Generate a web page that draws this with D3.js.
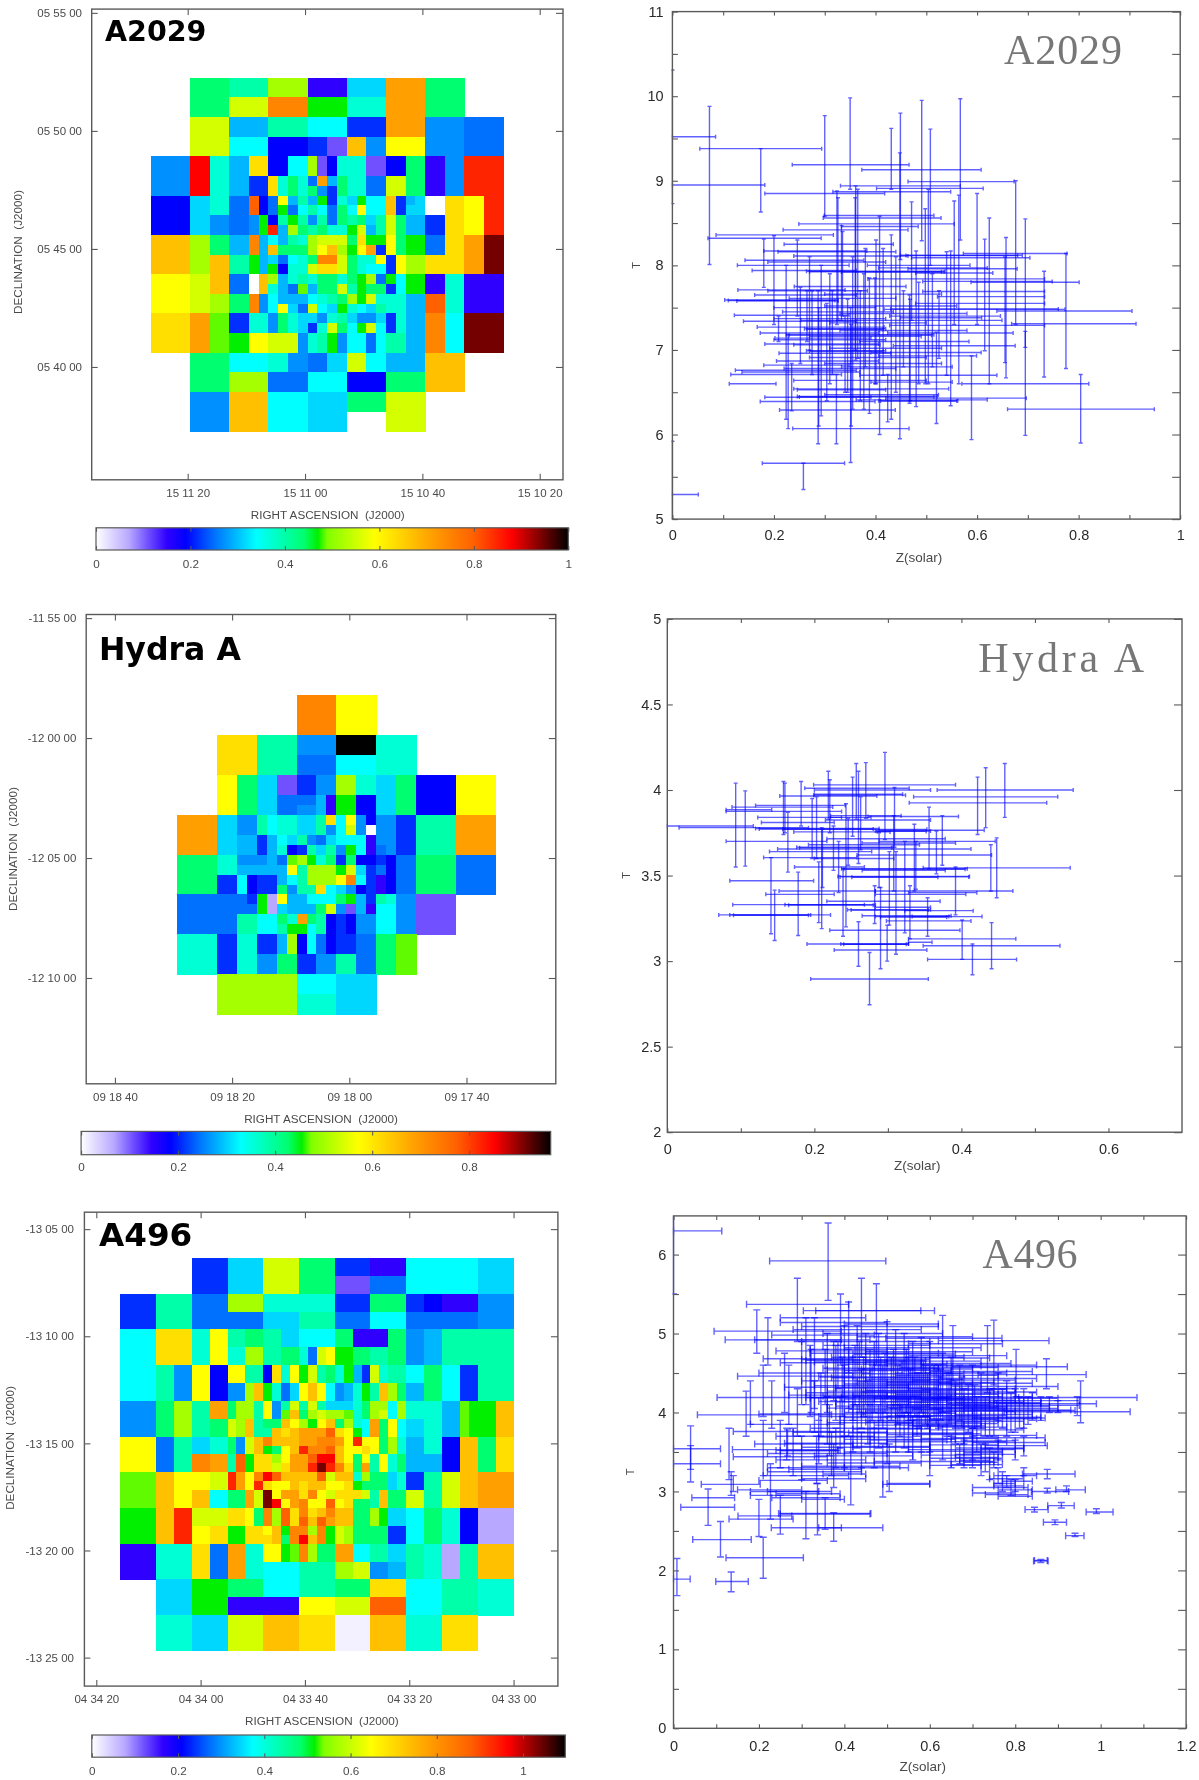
<!DOCTYPE html>
<html>
<head>
<meta charset="utf-8">
<script src="https://cdn.jsdelivr.net/npm/d3@7"></script>
<style>
body { margin: 0; background: #fff; }
svg { display: block; filter: blur(0.45px); }
text { font-family: "Liberation Sans", Arial, sans-serif; }
</style>
</head>
<body>
<svg id="chart" width="1199" height="1780"></svg>
<script>
// colour map, position on the bar (0-1) and colour
let cmap_pos = [0, .07, .11, .15, .19, .25, .34, .44, .47, .49, .59, .71, .80, .88, .94, 1];
let cmap_col = ['#ffffff', '#b8a8ff', '#7050ff', '#3000ff', '#0000ff', '#0070ff', '#00ffff', '#00ff70',
                '#00f000', '#80ff00', '#ffff00', '#ffa000', '#ff6000', '#ff0000', '#800000', '#000000'];

// abundance bins as fraction of the colour bar, one letter per level, '.' = no data
let levels = {W:0, w:.012, v:.07, p:.11, i:.15, b:.19, B:.215, c:.25, d:.27, e:.295, f:.315, g:.34, h:.37,
              j:.40, k:.44, l:.47, m:.485, n:.52, o:.555, q:.59, r:.63, s:.67, t:.71, u:.75, x:.80, y:.85,
              z:.88, A:.945, K:1};

// [how many fine rows, one letter for each fine column]  (| every 4 columns = one coarse bin)
let a2029_bins = [
 [2,'....|kkkk|jjjj|nnnn|iiii|ffff|tttt|kkkk|....'],
 [2,'....|kkkk|oooo|uuuu|llll|hhhh|tttt|kkkk|....'],
 [2,'....|oooo|eeee|jjjj|gggg|BBBB|tttt|dddd|cccc'],
 [2,'....|oooo|gggg|bbbb|BBpp|ssdd|qqqq|dddd|cccc'],
 [2,'dddd|zzhh|eerr|bbgg|npbh|hhpp|bbkk|iidd|yyyy'],
 [1,'dddd|zzhh|eeBB|rhkh|ctek|hhcc|ookk|iidd|yyyy'],
 [1,'dddd|zzhh|eeBB|rhkh|kdBk|hhcc|ookk|iidd|yyyy'],
 [1,'bbbb|ffhh|ccxb|cqej|elBh|flgg|sBef|WWrr|qqyy'],
 [1,'bbbb|ffhh|ccxb|clcg|jgck|gqgg|sBff|WWrr|qqyy'],
 [1,'bbbb|ffdd|ccdl|bjlj|djck|jkfj|okee|BBrr|qqyy'],
 [1,'bbbb|ffdd|ccdl|yenk|jkhh|loej|okee|BBrr|qqyy'],
 [1,'ssss|nnkk|eeue|gejh|nooo|krll|qkll|ccrr|ttAA'],
 [1,'ssss|nnkk|eeue|skkk|nqsn|lqtB|qkll|ccrr|ttAA'],
 [1,'ssss|nnss|jjle|fcgh|kuuo|khhq|Bqnn|rrrr|ttAA'],
 [1,'ssss|nnss|jjle|lbhh|orro|khgg|Bqnn|rrrr|ttAA'],
 [1,'qqqq|ooss|ccWs|nehj|hkkh|klnc|lgll|iihh|iiii'],
 [1,'qqqq|ooss|ccWs|hecm|ekko|jlkk|Bgll|iihh|iiii'],
 [1,'qqqq|oonn|kkud|geee|ghjk|nloh|hhee|xxhh|iiii'],
 [1,'qqqq|oonn|kkud|gqfc|ogfl|hgfj|hhee|xxhh|iiii'],
 [1,'rrrr|ttmm|BBhh|dkhf|fdhj|fddf|Bhee|uugg|AAAA'],
 [1,'rrrr|ttmm|BBhh|dkhf|Bhok|glog|Bhee|uugg|AAAA'],
 [2,'rrrr|ttmm|llqq|oood|hjld|ggcg|jjee|uugg|AAAA'],
 [2,'....|kkkk|gggg|hhdd|ccff|oogg|eeee|ssss|....'],
 [2,'....|kkkk|nnnn|cccc|gggg|bbbb|kkkk|ssss|....'],
 [2,'....|dddd|ssss|gggg|ffff|kkkk|oooo|....|....'],
 [2,'....|dddd|ssss|gggg|ffff|....|oooo|....|....']
];
let hydra_bins = [
 [4,'....|....|....|uuuu|qqqq|....|....|....'],
 [2,'....|rrrr|jjjj|dddd|KKKK|hhhh|....|....'],
 [2,'....|rrrr|jjjj|cccc|gggg|hhhh|....|....'],
 [2,'....|qqkk|ffpp|BBdd|nnhh|ffkk|bbbb|qqqq'],
 [1,'....|qqkk|ffcc|ccei|llbb|ffkk|bbbb|qqqq'],
 [1,'....|qqkk|ffcc|ddei|llbb|ffkk|bbbb|qqqq'],
 [1,'tttt|ffdd|jghh|ffjr|gqdb|ddBB|jjjj|tttt'],
 [1,'tttt|ffdd|jghh|ffjd|godW|ddBB|jjjj|tttt'],
 [1,'tttt|ffee|Begf|jdcf|gggi|ddBB|jjjj|tttt'],
 [1,'tttt|ffee|Behb|Bjfj|dlgi|cdBB|jjjj|tttt'],
 [1,'kkkk|hhdd|decm|nlhk|Bkbb|Bbcc|kkkk|cccc'],
 [1,'kkkk|hhee|eeeq|jnnn|lofB|cbcc|kkkk|cccc'],
 [1,'kkkk|BBgb|BBeg|jnnn|qugB|ibcc|kkkk|cccc'],
 [1,'kkkk|BBgb|BBkd|jjrg|fdbB|ibcc|kkkk|cccc'],
 [1,'cccc|cccB|lvqe|eggg|kleB|jhdd|pppp|....'],
 [1,'cccc|cccc|lvfe|eeko|dpei|ggdd|pppp|....'],
 [1,'cccc|ccjj|ggkh|tkjb|Bbdd|ggdd|pppp|....'],
 [1,'cccc|ccjj|ggjl|lgjb|Bbdd|ggdd|pppp|....'],
 [2,'hhhh|BBhh|BBen|bgcb|BBcc|kkmm|....|....'],
 [2,'hhhh|BBhh|ddkk|BBdd|jjcc|kkmm|....|....'],
 [2,'....|nnnn|nnnn|gggg|ffff|....|....|....'],
 [2,'....|nnnn|nnnn|hhhh|ffff|....|....|....']
];
let a496_bins = [
 [2,'....|....|BBBB|ffff|oooo|kkkk|BBBB|iiii|gggg|gggg|ffff'],
 [2,'....|....|BBBB|ffff|oooo|kkkk|pppp|cccc|gggg|gggg|ffff'],
 [2,'BBBB|jjjj|cccc|nnnn|hhhh|hhhh|BBBB|kkkk|BBbb|iiii|dddd'],
 [2,'BBBB|jjjj|cccc|cccc|ffff|jjjj|cccc|gggg|cccc|cccc|dddd'],
 [2,'gggg|rrrr|hhqq|jjkk|jjff|gggg|kkii|iikk|ddee|jjjj|jjjj'],
 [2,'gggg|rrrr|hhqq|hhnn|jjkk|hcoq|llkk|jjkk|ddee|jjjj|jjjj'],
 [2,'gggg|jjdd|qqbb|qqjj|brhq|lojk|hleB|ohjj|ggkk|ggBB|jjjj'],
 [2,'gggg|jjdd|qqbb|ddns|lhcf|qsqg|dehl|jsnk|eekk|ggBB|jjjj'],
 [1,'dddd|kknn|jjtt|knnj|qdjo|jojf|ffhk|nngn|hhhh|eeml|llss'],
 [1,'dddd|kknn|jjtt|knnj|qdms|knon|nmhk|nogn|hhhh|eeml|llss'],
 [1,'dddd|kknn|jjkk|onsj|kksq|nlqs|knhg|tkqg|ffhh|eeml|llss'],
 [1,'dddd|kknn|jjkk|onsj|jsrs|tttx|rqlg|tkqg|ffhh|eeml|llss'],
 [1,'qqqq|ccjj|ffhh|kdos|usss|ttuu|tqyq|qknh|eehh|bbss|kkrr'],
 [1,'qqqq|ccjj|ffhh|kdos|lkqs|yuux|sqqr|qknh|eehh|bbss|kkrr'],
 [1,'qqqq|ccjj|uutt|jxlr|rnqt|txzz|sqkq|jqhk|eeee|bbss|kkrr'],
 [1,'qqqq|ccjj|uutt|jxlr|rort|tyAy|urkt|jqhk|eeee|bbss|kkrr'],
 [1,'mmmm|ssqq|qqoo|ytqu|zxss|ssxo|sshn|kkfh|BBjj|ooss|tttt'],
 [1,'mmmm|ssqq|qqoo|ytqy|rqqs|rssq|qrlk|kkfh|BBjj|ooss|tttt'],
 [1,'mmmm|ssqq|ssgg|kkto|Aqtt|ruqo|rrro|jskk|oojj|ooss|tttt'],
 [1,'mmmm|ssqq|ssgg|kkto|Azqt|uqqx|qrkk|jskk|oojj|ooss|tttt'],
 [1,'llll|ssyy|oooo|rrqk|unxr|ursu|sskk|nlff|ggkk|hhbb|vvvv'],
 [1,'llll|ssyy|oooo|rrqk|unxr|xsxt|sskk|nlff|ggkk|hhbb|vvvv'],
 [1,'llll|ssyy|qqrr|llrr|qslu|unul|onkk|kkBB|ggkk|hhbb|vvvv'],
 [1,'llll|ssyy|qqrr|llrr|rsku|zsul|onkk|kkBB|ggkk|hhbb|vvvv'],
 [2,'iiii|hhhh|rrcc|tthh|qqlm|unkk|ttgg|jjff|jjhh|vvjj|ssss'],
 [2,'iiii|hhhh|rrcc|tthh|gggg|jjjj|nnoo|ddee|jjhh|vvjj|ssss'],
 [2,'....|ffff|llll|kkkk|gggg|jjjj|kkkk|rrrr|gggg|jjjj|hhhh'],
 [2,'....|ffff|llll|iiii|iiii|qqqq|oooo|xxxx|gggg|jjjj|hhhh'],
 [4,'....|hhhh|ffff|oooo|ssss|rrrr|wwww|ssss|hhhh|rrrr|....']
];

// horizontal error bars [T, Z low, Z high], vertical error bars [Z, T low, T high]
let a2029_h = [
 [9.52,0,.085],[9.38,.054,.294],[9.19,.236,.466],[9.13,.373,.608],[8.99,.464,.673],[8.95,0,.182],[8.94,.331,.567],
 [8.91,.402,.612],[8.87,.316,.548],[8.85,.182,.418],[8.59,.299,.515],[8.56,.297,.529],[8.49,.249,.555],[8.46,.333,.484],
 [8.42,.218,.464],[8.36,.086,.317],[8.32,.07,.293],[8.25,.22,.435],[8.17,.18,.383],[8.16,.208,.44],[8.14,.573,.777],
 [8.12,.449,.689],[8.115,.46,.68],[8.11,.239,.464],[8.09,.471,.704],[8.06,.143,.377],[8.04,.188,.42],[8,.128,.348],
 [8,.384,.586],[7.97,.406,.62],[7.96,.464,.679],[7.94,.157,.362],[7.93,.264,.537],[7.925,.27,.53],[7.92,.333,.535],
 [7.91,.479,.631],[7.84,.385,.733],[7.81,.493,.748],[7.8,.588,.801],[7.71,.129,.34],[7.7,.188,.384],[7.69,.493,.733],
 [7.65,.162,.362],[7.63,.522,.733],[7.59,.103,.326],[7.585,.11,.32],[7.58,.127,.326],[7.55,.479,.733],[7.48,.417,.773],
 [7.485,.43,.76],[7.46,.639,.905],[7.45,.217,.435],[7.41,.122,.348],[7.4,.428,.646],[7.38,.449,.609],[7.35,.253,.649],
 [7.34,.14,.362],[7.31,.668,.913],[7.29,.428,.733],[7.27,.167,.417],[7.25,.26,.42],[7.245,.265,.415],[7.2,.173,.406],
 [7.2,.424,.671],[7.18,.224,.515],[7.175,.23,.51],[7.14,.202,.391],[7.1,.369,.584],[7.07,.182,.406],[7.06,.239,.409],
 [7.05,.435,.675],[6.99,.264,.42],[6.985,.27,.415],[6.97,.391,.608],[6.93,.406,.599],[6.87,.205,.406],[6.82,.18,.348],
 [6.8,.333,.551],[6.76,.124,.362],[6.74,.137,.369],[6.71,.115,.333],[6.7,.369,.639],[6.64,.239,.5],[6.62,.391,.551],
 [6.6,.112,.204],[6.6,.57,.82],[6.53,.246,.42],[6.54,.239,.544],[6.47,.3,.524],[6.45,.246,.522],[6.445,.25,.515],
 [6.44,.182,.391],[6.43,.42,.697],[6.41,.362,.62],[6.4,.406,.562],[6.395,.41,.56],[6.39,.173,.399],[6.3,.66,.949],
 [6.29,.211,.439],[6.07,.237,.466],[5.66,.177,.339],[5.29,0,.051],
 [7.75,.24,.46],[7.66,.3,.53],[7.61,.23,.44],[7.52,.3,.56],[7.5,.2,.4],[7.43,.33,.58],[7.37,.2,.42],[7.32,.31,.5],
 [7.23,.33,.58],[7.16,.27,.49],[7.12,.2,.42],[7.02,.31,.53],[6.96,.21,.43],[6.91,.27,.5],[6.84,.3,.53],[6.78,.22,.44]
];
let a2029_v = [
 [0,8.73,10.31],[0,5,5.92],[.073,8.01,9.88],[.174,8.63,9.38],[.3,8.58,9.77],[.35,8.9,9.98],[.351,5.67,7.5],[.431,8.9,9.62],
 [.449,8.07,9.8],[.448,5.95,9.33],[.491,8.29,9.95],[.508,8,9.61],[.567,8.3,9.97],[.6,7.3,8.85],[.676,7.3,9],[.695,7.03,8.55],
 [.695,5.99,7.22],[.624,6.6,8.56],[.615,6.99,8.31],[.657,6.67,8.33],[.655,6.85,8.1],[.732,6.68,7.93],[.775,6.78,8.14],
 [.804,5.9,6.71],[.589,5.94,6.93],[.258,5.35,5.66],[.564,6.6,8.83],[.555,7.3,8.76],[.548,6.34,8.17],[.54,6.7,8.16],
 [.52,6.13,7.21],[.504,6.6,8.9],[.498,6.6,8.67],[.48,6.33,8.17],[.471,7.35,8.75],[.467,6.37,7.65],[.468,6.4,7.6],
 [.408,6,8.58],[.401,6.6,8.3],[.431,6.18,8.36],[.424,6.15,6.71],[.361,6.88,8.94],[.36,7,8.8],[.333,7.35,8.47],[.335,7.4,8.4],
 [.324,7.3,8.88],[.326,7.35,8.8],[.323,5.89,6.71],[.287,5.89,7.7],[.288,6.1,7.5],[.293,6.22,8],[.2,7.3,8.35],[.18,7.74,8.31],
 [.224,6.18,8],[.228,6.07,7.18],[.246,7.4,8.3],[.235,6.28,6.84],[.252,6.84,7.74],[.275,6.71,7.7],[.209,7.1,7.4],
 [.304,6.4,7.55],[.315,6.71,7.7],[.37,6.4,7.7],[.377,6.3,7.9],[.388,6.25,7.85],[.399,6.6,7.85],[.27,7,8.1],[.265,7.1,7.7],
 [.345,6.5,7.6],[.352,6.1,7.3],[.31,6.6,7.9],[.34,6.5,7.4],[.355,6.3,8.1],[.365,6.9,8.9],[.38,6.8,8.2],[.415,6.7,8.2],
 [.44,6.5,8.1],[.455,6.8,7.7],[.485,6.6,7.8],[.512,6.8,7.9],[.525,6.9,7.7]
];
let hydra_h = [
 [4.03,.199,.392],[4.01,.187,.329],[4,.367,.552],[4,.2,.358],[3.96,.335,.531],[3.965,.153,.285],[3.97,.199,.324],
 [3.975,.2,.32],[3.925,.329,.516],[3.91,.12,.242],[3.9,.088,.225],[3.875,.08,.237],[3.885,.08,.142],[3.85,.222,.318],
 [3.84,.123,.237],[3.84,.222,.277],[3.845,.273,.396],[3.825,.215,.358],[3.81,.128,.227],[3.79,0,.117],[3.78,.016,.192],
 [3.775,.12,.288],[3.772,.125,.28],[3.77,.157,.353],[3.76,.283,.358],[3.758,.285,.352],[3.765,.288,.431],[3.755,.172,.303],
 [3.715,.217,.378],[3.7,.08,.217],[3.7,.288,.446],[3.69,.265,.392],[3.68,.192,.343],[3.665,.176,.307],[3.662,.18,.305],
 [3.655,.15,.413],[3.64,.139,.278],[3.62,.258,.441],[3.605,.131,.258],[3.6,.2,.308],[3.55,.173,.268],[3.545,.348,.548],
 [3.54,.237,.408],[3.537,.24,.405],[3.53,.265,.378],[3.495,.232,.411],[3.492,.235,.41],[3.49,.251,.368],[3.47,.085,.199],
 [3.41,.152,.283],[3.41,.283,.47],[3.4,.328,.421],[3.39,.134,.227],[3.39,.283,.406],[3.35,.217,.371],[3.33,.089,.268],
 [3.33,.16,.283],[3.327,.165,.28],[3.315,.283,.358],[3.3,.245,.358],[3.298,.25,.355],[3.295,.323,.416],[3.27,.07,.222],
 [3.27,.085,.195],[3.268,.09,.192],[3.26,.283,.383],[3.257,.29,.38],[3.265,.265,.386],[3.26,.333,.428],[3.235,.298,.413],
 [3.18,.221,.398],[3.13,.328,.474],[3.1,.19,.328],[3.1,.236,.328],[3.098,.24,.325],[3.11,.328,.36],[3.09,.348,.534],
 [3.065,.227,.353],[3.01,.354,.475],[2.895,.195,.355]
];
let hydra_v = [
 [.093,3.55,4.04],[.106,3.555,3.995],[.141,3.16,3.605],[.146,3.12,3.415],[.158,3.74,4.05],[.16,3.75,4.04],[.164,3.52,3.87],
 [.178,3.15,3.52],[.182,3.79,4.05],[.197,3.6,3.95],[.203,3.6,3.96],[.206,3.225,3.58],[.21,3.19,3.78],[.211,3.43,3.77],
 [.219,3.83,4.11],[.221,3.75,4.06],[.226,3.53,3.79],[.233,3.4,3.7],[.239,3.145,3.54],[.243,3.2,3.92],[.246,3.56,3.835],
 [.252,3.73,4.075],[.257,3.83,4.155],[.26,2.97,3.23],[.26,3.57,4.11],[.263,3.65,3.96],[.27,3.835,4.16],[.275,2.745,3.05],
 [.282,3.22,3.44],[.29,2.955,3.43],[.296,3.71,4.22],[.288,3.43,3.75],[.299,3,3.21],[.302,3.21,3.64],[.309,3.665,4.015],
 [.308,3.41,3.85],[.311,3.04,3.64],[.323,3.165,3.7],[.33,3.13,3.44],[.336,3.41,3.8],[.338,3.42,3.7],[.356,3.54,3.9],
 [.354,3.145,3.37],[.366,3.51,3.76],[.374,3.56,3.85],[.392,3.27,3.55],[.401,3.01,3.24],[.415,2.92,3.1],[.422,3.74,4.075],
 [.433,3.78,4.13],[.44,3.41,3.68],[.441,2.955,3.225],[.448,3.37,3.72],[.459,3.84,4.155]
];
let a496_h = [
 [6.3,0,.113],[5.92,.225,.497],[5.37,.171,.41],[5.29,.304,.579],[5.29,.333,.611],[5.2,.25,.45],[5.14,.25,.5],[5.12,.4,.62],
 [5.09,.3,.62],[5.05,.28,.58],[5.03,.095,.393],[5,.35,.63],[4.98,.23,.47],[4.96,.43,.7],[4.94,.497,.769],[4.92,.121,.393],
 [4.92,.19,.46],[4.91,.62,.879],[4.9,.3,.6],[4.87,.55,.77],[4.85,.35,.6],[4.82,.4,.72],[4.8,.32,.55],[4.78,.24,.5],
 [4.77,.45,.7],[4.75,.32,.62],[4.72,.55,.78],[4.7,.37,.68],[4.68,.21,.42],[4.67,.3,.6],[4.66,.31,.59],[4.65,.45,.72],
 [4.63,.25,.5],[4.62,.5,.79],[4.6,.58,.85],[4.58,.652,.922],[4.56,.35,.62],[4.55,.44,.7],[4.53,.4,.65],[4.5,.2,.46],
 [4.5,.55,.78],[4.48,.713,.966],[4.46,.15,.42],[4.45,.34,.63],[4.43,.62,.85],[4.42,.45,.68],[4.4,.3,.6],[4.38,.5,.75],
 [4.36,.4,.7],[4.34,.33,.55],[4.33,.65,.9],[4.32,.26,.55],[4.3,.55,.8],[4.28,.45,.75],[4.27,.36,.6],[4.26,.7,.85],
 [4.25,.31,.6],[4.24,.6,.8],[4.22,.27,.5],[4.21,.42,.66],[4.2,.5,.77],[4.19,.808,1.085],[4.19,.102,.393],[4.19,.31,.65],
 [4.185,.32,.64],[4.18,.6,.9],[4.17,.4,.7],[4.16,.52,.74],[4.15,.75,.95],[4.14,.34,.55],[4.13,.55,.82],[4.125,.66,.86],
 [4.11,.756,.99],[4.1,.42,.75],[4.09,.65,.95],[4.08,.38,.6],[4.07,.53,.78],[4.06,.5,.76],[4.05,.6,.9],[4.04,.41,.63],
 [4.03,.68,.93],[4.025,.7,.94],[4.01,.774,1.069],[4.02,.45,.7],[4,.4,.65],[3.98,.2,.45],[3.97,.056,.37],[3.96,.52,.78],
 [3.95,.34,.6],[3.94,.63,.86],[3.93,.7,.87],[3.92,.6,.85],[3.9,.39,.65],[3.88,.45,.72],[3.86,.52,.76],[3.85,.18,.4],
 [3.83,.55,.73],[3.825,.56,.72],[3.8,.32,.58],[3.78,.6,.82],[3.76,.14,.4],[3.74,.41,.7],[3.72,.5,.7],[3.7,.24,.47],
 [3.68,.65,.87],[3.66,.4,.66],[3.63,.5,.78],[3.62,.7,.87],[3.6,.19,.42],[3.58,.73,.875],[3.56,.3,.6],[3.54,0,.11],
 [3.53,.138,.385],[3.53,.55,.8],[3.52,.24,.39],[3.515,.25,.385],[3.5,.4,.6],[3.48,.22,.5],[3.45,.33,.56],[3.42,.6,.77],
 [3.4,.24,.45],[3.395,.67,.74],[3.38,.47,.75],[3.35,0,.11],[3.34,.65,.77],[3.32,.3,.53],[3.3,.22,.4],[3.3,.4,.55],
 [3.25,.22,.44],[3.22,.35,.45],[3.22,.817,.94],[3.2,.21,.41],[3.16,.3,.45],[3.1,.5,.6],[3.09,.065,.203],[3.09,.49,.6],
 [3.02,.15,.3],[3,.18,.37],[3,.22,.34],[2.97,.24,.39],[2.95,.18,.3],[2.92,.043,.143],[2.9,.3,.4],[2.92,.23,.39],
 [2.8,.017,.143],[2.72,.246,.462],[2.715,.25,.46],[2.69,.151,.277],[2.65,.13,.28],[2.54,.229,.393],[2.54,.34,.49],
 [2.39,.045,.182],[2.16,.123,.304],[1.86,.099,.175],[1.89,0,.039],
 [3.2,.75,.85],[3.05,.7,.83],[3.02,.76,.84],[3,.838,.925],[3.02,.895,.964],[2.98,.7,.8],[2.96,.73,.83],[2.94,.76,.84],
 [3.1,.75,.8],[3.07,.75,.82],[2.74,.966,1.029],[2.77,.823,.877],[2.82,.876,.938],[2.61,.866,.92],[2.44,.918,.961],
 [2.12,.843,.877],[2.125,.845,.875],
 [4.74,.42,.66],[4.69,.5,.74],[4.64,.33,.58],[4.61,.4,.64],[4.59,.47,.72],[4.57,.53,.76],[4.54,.36,.6],[4.52,.6,.84],
 [4.49,.44,.68],[4.47,.52,.76],[4.44,.37,.6],[4.41,.56,.8],[4.39,.43,.65],[4.37,.62,.84],[4.35,.5,.72],[4.31,.38,.62],
 [4.29,.58,.78],[4.26,.44,.66],[4.23,.52,.76],[4.205,.35,.58],[4.195,.62,.84],[4.175,.47,.68],[4.155,.58,.8],[4.135,.38,.62],
 [4.115,.64,.86],[4.095,.5,.74],[4.075,.68,.88],[4.055,.36,.58],[4.045,.56,.78],[4.015,.62,.8],[3.99,.44,.66],[3.975,.66,.84],
 [3.955,.5,.72],[3.935,.4,.6],[3.91,.56,.76],[3.89,.66,.82],[3.87,.36,.56],[3.84,.47,.68],[3.815,.62,.78],[3.79,.42,.6],
 [3.75,.28,.5],[3.73,.56,.72],[3.69,.34,.56],[3.65,.46,.64],[3.61,.26,.5],[3.57,.42,.6],[3.55,.66,.82],[3.47,.66,.8],
 [3.44,.14,.36],[3.36,.36,.58],[3.28,.27,.44],[3.14,.2,.36],
 [3.71,.7,.85],[3.67,.58,.76],[3.64,.68,.8],[3.59,.6,.76],[3.54,.72,.82],[3.51,.6,.77],[3.49,.68,.77],[3.46,.58,.72],
 [3.43,.66,.76],[3.37,.68,.76],[3.33,.6,.72],[3.16,.74,.82],[3.13,.77,.84]
];
let a496_v = [
 [0,5.5,6.5],[.362,5.42,6.4],[.29,4.9,5.7],[.44,4.7,5.7],[.475,4.6,5.63],[.391,4.6,5.5],[.195,4.75,5.3],[.221,4.6,5.2],
 [.41,4.5,5.4],[.63,4.45,5.23],[.654,4.4,5.1],[.735,4.25,5.1],[.75,4.35,5.17],[.802,4.2,4.8],[.873,4.3,4.68],[.953,3.87,4.4],
 [.945,3.96,4.2],[.04,3.12,3.83],[.04,3.28,3.58],[.13,3.15,3.8],[.135,2.95,3.25],[.14,3,3.2],[.081,2.57,3.03],[.11,2.17,2.62],
 [.21,1.9,2.42],[.135,1.73,1.98],[.008,1.68,2.15],[.2,2.43,2.9],[.227,2.65,3.35],[.25,2.46,2.95],[.31,2.4,3],[.337,2.45,3.1],
 [.355,2.52,2.92],[.375,2.37,2.73],[.415,2.83,3.7],[.49,2.93,3.6],[.505,3,3.6],[.6,3.2,3.85],[.17,3.7,4.27],[.375,3.05,3.6],
 [.21,3.95,4.6],[.265,3.4,3.8],[.267,3.45,3.78],[.335,3.1,3.7],[.38,3.3,3.8],
 [.26,4,4.75],[.3,4.1,4.9],[.32,3.95,4.85],[.322,4,4.8],[.31,4.1,5.2],[.33,4.05,5.2],[.345,3.7,4.5],[.36,4,5],[.38,3.9,4.85],
 [.385,4.3,4.9],[.4,3.7,4.6],[.4,4.2,5.1],[.42,3.9,4.7],[.43,4.2,5.1],[.44,3.8,4.55],[.435,4,4.9],[.45,4.1,5],[.455,3.6,4.4],
 [.47,4,4.9],[.48,4.2,5],[.49,3.8,4.6],[.5,4.2,5.15],[.51,3.9,4.7],[.52,4.1,5.05],[.53,3.7,4.5],[.54,4.1,5],[.55,3.9,4.7],
 [.56,4.2,4.9],[.57,3.7,4.5],[.58,4,4.95],[.59,3.85,4.6],[.6,4.1,4.9],[.62,3.8,4.6],[.63,4,4.75],[.64,3.7,4.5],[.65,3.9,4.7],
 [.66,3.6,4.35],[.67,3.9,4.6],[.68,3.6,4.3],[.7,3.8,4.6],[.71,3.5,4.2],[.72,3.8,4.5],[.74,3.7,4.3],[.76,3.9,4.5],[.78,3.7,4.4],
 [.8,3.75,4.3],[.82,3.8,4.3],[.84,3.9,4.25],[.86,3.9,4.2],[.88,4,4.2],[.9,4,4.15],
 [.65,3.3,3.7],[.67,3.35,3.6],[.7,3.3,3.7],[.72,3.2,3.6],[.74,3.15,3.55],[.76,3.1,3.3],[.77,3,3.25],[.79,2.95,3.15],[.8,3,3.15],
 [.82,3.2,3.3],[.875,3.16,3.28],[.82,3.45,3.7],[.8,3.4,3.65],[.56,3.4,3.9],[.5,3.35,3.95],[.47,3.3,3.8],[.44,3.3,3.75],
 [.4,3.3,3.7],[.37,3.2,3.75],[.34,3.35,3.9],[.3,3.15,3.7],[.28,3.2,3.8],[.25,3.3,3.9],[.21,3.2,3.9],[.18,3.85,4.4],[.23,3.8,4.4],
 [.27,3.85,4.6],[.29,3.7,4.3],[.33,3.75,4.4],[.365,3.45,4.1],[.39,3.55,4.2],[.43,3.55,4.1],[.46,3.5,4.1],[.52,3.5,4.1],
 [.55,3.5,4],[.6,3.5,3.95],[.63,3.4,3.85],
 [.355,4.1,4.8],[.375,4.15,4.9],[.395,3.95,4.7],[.41,4.05,4.8],[.425,4.1,4.85],[.445,3.95,4.7],[.46,4.1,4.8],[.465,3.9,4.6],
 [.485,3.9,4.7],[.495,4,4.75],[.515,4.05,4.8],[.525,3.85,4.6],[.535,3.95,4.65],[.545,4,4.8],[.555,3.9,4.55],[.565,3.95,4.7],
 [.575,3.8,4.5],[.585,3.95,4.65],[.595,3.8,4.5],[.61,3.9,4.6],[.615,3.85,4.55],[.625,3.9,4.55],[.645,3.85,4.5],[.66,3.8,4.4],
 [.675,3.8,4.45],[.69,3.75,4.35],[.705,3.8,4.35],[.73,3.7,4.2],[.75,3.7,4.3],[.77,3.8,4.3],[.79,3.75,4.25],[.81,3.8,4.2],
 [.83,3.85,4.2],[.36,3.6,4.2],[.42,3.5,4.1],[.48,3.55,4.1],[.54,3.55,4],[.58,3.5,3.95],
 [.893,2.58,2.64],[.908,2.79,2.86],[.99,2.72,2.78],[.845,2.74,2.8],[.94,2.43,2.47],[.86,2.1,2.14],[.875,2.98,3.04],[.92,3,3.07],
 [.68,3.3,3.65],[.73,3.25,3.6],[.75,3.3,3.5],[.7,3.4,3.8],[.76,3.4,3.65],[.78,3.05,3.2]
];

// map panels: RA in seconds and Dec in arcmin, measured from the centre tick
let a2029_ra = [20, 0, -20, -40], a2029_ra_txt = ['15 11 20', '15 11 00', '15 10 40', '15 10 20'];
let a2029_dec = [10, 5, 0, -5], a2029_dec_txt = ['05 55 00', '05 50 00', '05 45 00', '05 40 00'];
let hydra_ra = [40, 20, 0, -20], hydra_ra_txt = ['09 18 40', '09 18 20', '09 18 00', '09 17 40'];
let hydra_dec = [10, 5, 0, -5], hydra_dec_txt = ['-11 55 00', '-12 00 00', '-12 05 00', '-12 10 00'];
let a496_ra = [40, 20, 0, -20, -40], a496_ra_txt = ['04 34 20', '04 34 00', '04 33 40', '04 33 20', '04 33 00'];
let a496_dec = [10, 5, 0, -5, -10], a496_dec_txt = ['-13 05 00', '-13 10 00', '-13 15 00', '-13 20 00', '-13 25 00'];
let a2029_bar = [0, .2, .4, .6, .8, 1], hydra_bar = [0, .2, .4, .6, .8], a496_bar = [0, .2, .4, .6, .8, 1];

let svg = d3.select('#chart');
let defs = svg.append('defs');
let grad = defs.append('linearGradient').attr('id', 'cbar');
grad.selectAll('stop').data(cmap_pos).join('stop')
    .attr('offset', d => d * 100 + '%')
    .attr('stop-color', (d, i) => cmap_col[i]);
let color = d3.scaleLinear().domain(cmap_pos).range(cmap_col);
const GRAY = '#5a5a5a';

function style_axis(g, size, col) {
    g.select('.domain').remove();
    g.selectAll('.tick line').attr('stroke', GRAY).attr('stroke-width', 1.1);
    g.selectAll('.tick text').attr('fill', col || '#4a4a4a').attr('font-size', size).attr('font-family', '"Liberation Sans"');
}

function frame_axes(x, y, box, o) {
    // four sides, the labels on bottom and left only
    let sides = [
        [d3.axisBottom(x).tickValues(o.xt).tickSize(-o.xlen).tickPadding(o.xpad).tickFormat((d, i) => o.xtxt[i]), 0, box.y1],
        [d3.axisTop(x).tickValues(o.xt).tickSize(-o.xlen).tickFormat(''), 0, box.y0],
        [d3.axisLeft(y).tickValues(o.yt).tickSize(-o.ylen).tickPadding(o.ypad).tickFormat((d, i) => o.ytxt[i]), box.x0, 0],
        [d3.axisRight(y).tickValues(o.yt).tickSize(-o.ylen2).tickFormat(''), box.x1, 0]
    ];
    if (o.xm) {
        sides.push([d3.axisBottom(x).tickValues(o.xm).tickSize(-o.xlen).tickFormat(''), 0, box.y1]);
        sides.push([d3.axisTop(x).tickValues(o.xm).tickSize(-o.xlen).tickFormat(''), 0, box.y0]);
    }
    if (o.ym) {
        sides.push([d3.axisLeft(y).tickValues(o.ym).tickSize(-o.ylen).tickFormat(''), box.x0, 0]);
        sides.push([d3.axisRight(y).tickValues(o.ym).tickSize(-o.ylen2).tickFormat(''), box.x1, 0]);
    }
    sides.forEach(s => {
        svg.append('g').attr('transform', `translate(${s[1]},${s[2]})`).call(s[0]).call(g => style_axis(g, o.font, o.col));
    });
    svg.append('rect').attr('x', box.x0).attr('y', box.y0)
        .attr('width', box.x1 - box.x0).attr('height', box.y1 - box.y0)
        .attr('fill', 'none').attr('stroke', GRAY).attr('stroke-width', 1.4);
}

function label(txt, px, py, size, rotate) {
    let t = svg.append('text').attr('text-anchor', 'middle').attr('font-size', size).attr('fill', '#4a4a4a')
        .attr('dy', '.35em').style('white-space', 'pre').text(txt);
    t.attr('transform', `translate(${px},${py})` + (rotate ? ' rotate(-90)' : ''));
}

function draw_map(p) {
    let x = d3.scaleLinear().domain(p.ra_dom).range([p.box.x0, p.box.x1]);
    let y = d3.scaleLinear().domain(p.dec_dom).range([p.box.y0, p.box.y1]);

    // bins to cells
    let cells = [], row = 0;
    p.bins.forEach(b => {
        let s = b[1].replace(/\|/g, '');
        for (let k = 0; k < b[0]; k++) {
            s.split('').forEach((c, col) => {
                if (c != '.') cells.push({row: row, col: col, v: levels[c]});
            });
            row++;
        }
    });
    svg.append('g').attr('shape-rendering', 'crispEdges').selectAll('rect').data(cells).join('rect')
        .attr('x', d => x(p.ra0 - d.col * p.dra))
        .attr('y', d => y(p.dec0 - d.row * p.ddec))
        .attr('width', d => x(p.ra0 - (d.col + 1) * p.dra) - x(p.ra0 - d.col * p.dra) + .4)
        .attr('height', d => y(p.dec0 - (d.row + 1) * p.ddec) - y(p.dec0 - d.row * p.ddec) + .4)
        .attr('fill', d => color(d.v));

    frame_axes(x, y, p.box, {xt: p.ra, xtxt: p.ra_txt, yt: p.dec, ytxt: p.dec_txt,
                             xlen: 6, ylen: 6, ylen2: 7, xpad: 9, ypad: p.ypad, font: 11.5});

    label('RIGHT ASCENSION  (J2000)', p.xlab[0], p.xlab[1], 11.7, false);
    label('DECLINATION  (J2000)', p.ylab[0], p.ylab[1], 11.7, true);

    // colour bar
    let c = p.cbar;
    let cx = d3.scaleLinear().domain([0, p.vmax]).range([c.x0, c.x1]);
    svg.append('rect').attr('x', c.x0).attr('y', c.y0).attr('width', c.x1 - c.x0).attr('height', c.y1 - c.y0)
        .attr('fill', 'url(#cbar)').attr('stroke', GRAY).attr('stroke-width', 1.2);
    svg.append('g').attr('transform', `translate(0,${c.y1})`)
        .call(d3.axisBottom(cx).tickValues(p.bar).tickSize(-4).tickPadding(c.pad).tickFormat(d => d))
        .call(g => style_axis(g, 11.7));
    svg.append('g').attr('transform', `translate(0,${c.y0})`)
        .call(d3.axisTop(cx).tickValues(p.bar).tickSize(-4).tickFormat(''))
        .call(g => style_axis(g, 11.7));

    svg.append('text').attr('x', p.title[0]).attr('y', p.title[1])
        .style('font-family', '"DejaVu Sans"').attr('font-weight', 'bold').attr('font-size', p.title[2]).attr('fill', '#000').text(p.name);
}

function draw_scatter(p) {
    let x = d3.scaleLinear().domain(p.zdom).range([p.box.x0, p.box.x1]);
    let y = d3.scaleLinear().domain(p.tdom).range([p.box.y1, p.box.y0]);
    let id = 'clip' + p.name.replace(/\s/g, '');
    defs.append('clipPath').attr('id', id).append('rect')
        .attr('x', p.box.x0 - 1).attr('y', p.box.y0)
        .attr('width', p.box.x1 - p.box.x0 + 1).attr('height', p.box.y1 - p.box.y0);
    let g = svg.append('g').attr('clip-path', `url(#${id})`)
        .attr('stroke', '#0000ff').attr('stroke-opacity', .62).attr('stroke-width', 1.4).attr('fill', 'none');
    let cap = p.cap;

    // horizontal bars with their end caps
    g.append('g').selectAll('path').data(p.hbars).join('path')
        .attr('d', d => {
            let a = x(d[1]), b = x(d[2]), t = y(d[0]);
            return `M${a},${t}L${b},${t}M${a},${t - cap}V${t + cap}M${b},${t - cap}V${t + cap}`;
        });
    g.append('g').selectAll('path').data(p.vbars).join('path')
        .attr('d', d => {
            let z = x(d[0]), a = y(d[1]), b = y(d[2]);
            return `M${z},${a}V${b}M${z - cap},${a}H${z + cap}M${z - cap},${b}H${z + cap}`;
        });

    frame_axes(x, y, p.box, {xt: p.xt, xtxt: p.xt.map(String), yt: p.yt, ytxt: p.yt.map(String),
                             xm: p.xm, ym: p.ym, xlen: 4, ylen: 5.5, ylen2: 8, xpad: p.xpad, ypad: p.ypad, font: 14.5, col: '#2a2a2a'});

    label('Z(solar)', p.xlab[0], p.xlab[1], 13.5, false);
    label('T', p.ylab[0], p.ylab[1], 11, true);

    svg.append('text').attr('x', p.title[0]).attr('y', p.title[1]).style('font-family', '"Liberation Serif"')
        .attr('font-size', 42).attr('fill', '#777')
        .attr('textLength', p.title[2]).attr('lengthAdjust', 'spacing').text(p.name);
}

draw_map({
    name: 'A2029', bins: a2029_bins, title: [105, 41, 28.5],
    box: {x0: 91.7, x1: 563, y0: 9.1, y1: 479.8},
    ra_dom: [36.36, -43.97], dec_dom: [10.16, -9.78],
    ra0: 26.3, dra: 1.671, dec0: 7.25, ddec: .416,
    ra: a2029_ra, ra_txt: a2029_ra_txt, dec: a2029_dec, dec_txt: a2029_dec_txt, ypad: 9.7,
    xlab: [327.7, 514.4], ylab: [18, 252],
    cbar: {x0: 96, x1: 568.3, y0: 527.8, y1: 550, pad: 9.4}, vmax: 1, bar: a2029_bar
});
draw_scatter({
    name: 'A2029', hbars: a2029_h, vbars: a2029_v, cap: 2, title: [1004, 64, 118],
    box: {x0: 672.4, x1: 1180.2, y0: 11.6, y1: 519.1},
    zdom: [0, 1], tdom: [5, 11],
    xt: [0, .2, .4, .6, .8, 1], xm: [.1, .3, .5, .7, .9], yt: [5, 6, 7, 8, 9, 10, 11], ym: [5.5, 6.5, 7.5, 8.5, 9.5, 10.5],
    xpad: 11, ypad: 8.8, xlab: [919, 556.9], ylab: [636.6, 265.4]
});
draw_map({
    name: 'Hydra A', bins: hydra_bins, title: [98.9, 660, 31.6],
    box: {x0: 86.2, x1: 555.8, y0: 614.5, y1: 1083.8},
    ra_dom: [44.9, -35.24], dec_dom: [10.15, -9.41],
    ra0: 29.4, dra: 1.70, dec0: 6.8, ddec: .416,
    ra: hydra_ra, ra_txt: hydra_ra_txt, dec: hydra_dec, dec_txt: hydra_dec_txt, ypad: 9.9,
    xlab: [321, 1118.4], ylab: [12.4, 849],
    cbar: {x0: 81.1, x1: 550.7, y0: 1131.4, y1: 1154.7, pad: 8}, vmax: .968, bar: hydra_bar
});
draw_scatter({
    name: 'Hydra A', hbars: hydra_h, vbars: hydra_v, cap: 2, title: [978.2, 671.6, 166],
    box: {x0: 667.3, x1: 1182, y0: 618.9, y1: 1132.2},
    zdom: [0, .7], tdom: [2, 5],
    xt: [0, .2, .4, .6], xm: [.1, .3, .5], yt: [2, 2.5, 3, 3.5, 4, 4.5, 5], ym: null,
    xpad: 11.7, ypad: 5.9, xlab: [917.3, 1165], ylab: [626.6, 875.5]
});
draw_map({
    name: 'A496', bins: a496_bins, title: [99, 1245.5, 32.6],
    box: {x0: 84.4, x1: 557.9, y0: 1212.2, y1: 1686.1},
    ra_dom: [42.28, -48.5], dec_dom: [10.79, -11.33],
    ra0: 35.4, dra: 1.713, dec0: 8.65, ddec: .4167,
    ra: a496_ra, ra_txt: a496_ra_txt, dec: a496_dec, dec_txt: a496_dec_txt, ypad: 10.4,
    xlab: [321.9, 1721.3], ylab: [10, 1447.9],
    cbar: {x0: 91.8, x1: 565.3, y0: 1735, y1: 1757.2, pad: 10}, vmax: 1.098, bar: a496_bar
});
draw_scatter({
    name: 'A496', hbars: a496_h, vbars: a496_v, cap: 3.5, title: [982.6, 1268.4, 95],
    box: {x0: 673.5, x1: 1186.1, y0: 1215.9, y1: 1728.3},
    zdom: [0, 1.2], tdom: [0, 6.49],
    xt: [0, .2, .4, .6, .8, 1, 1.2], xm: [.1, .3, .5, .7, .9, 1.1], yt: [0, 1, 2, 3, 4, 5, 6], ym: [.5, 1.5, 2.5, 3.5, 4.5, 5.5],
    xpad: 12.4, ypad: 7.3, xlab: [922.8, 1766], ylab: [630, 1471.9]
});
</script>
</body>
</html>
